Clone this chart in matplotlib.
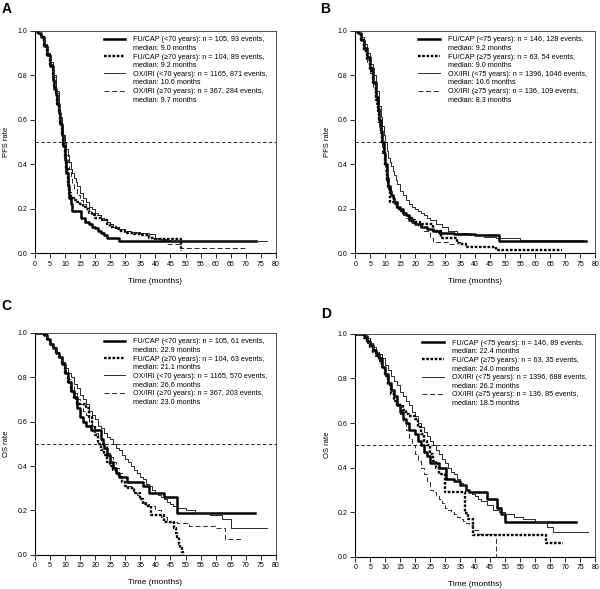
import matplotlib.pyplot as plt
from matplotlib.lines import Line2D

plt.rcParams['font.family'] = ['Liberation Sans', 'DejaVu Sans']

# ---- Panel A: PFS, cut-off 70 years ----
a_fu_young_t = [0, 1, 2, 3, 4, 5, 6, 6.5, 7, 7.5, 8, 8.5, 9, 9.5, 10, 10.5, 11, 11.5, 12, 12.5, 15.4, 16.5, 18, 19, 20, 21, 22, 23, 24, 28, 73.5]
a_fu_young_s = [1.0, 0.99, 0.97, 0.93, 0.89, 0.84, 0.78, 0.74, 0.71, 0.67, 0.63, 0.58, 0.53, 0.48, 0.42, 0.36, 0.3, 0.25, 0.22, 0.19, 0.16, 0.14, 0.13, 0.12, 0.115, 0.1, 0.09, 0.08, 0.07, 0.055, 0.055]
a_fu_old_t = [0, 1, 2, 3, 4, 5, 6, 6.5, 7, 7.5, 8, 8.5, 9, 9.5, 10, 10.5, 11, 11.5, 12, 13, 14, 15, 16, 17, 18, 19, 20, 22, 24, 25, 27, 28, 30, 33, 35, 38, 40, 48.5, 48.5]
a_fu_old_s = [1.0, 0.99, 0.97, 0.93, 0.89, 0.84, 0.79, 0.75, 0.71, 0.67, 0.63, 0.58, 0.53, 0.48, 0.43, 0.38, 0.32, 0.27, 0.25, 0.24, 0.23, 0.22, 0.21, 0.2, 0.18, 0.17, 0.16, 0.15, 0.13, 0.12, 0.11, 0.1, 0.09, 0.085, 0.08, 0.07, 0.065, 0.065, 0.01]
a_ox_young_t = [0, 1, 2, 3, 4, 5, 6, 7, 8, 8.5, 9, 9.5, 10, 10.5, 11, 11.5, 12, 12.5, 13, 13.5, 14, 15, 16, 17, 18, 19, 20, 21, 22, 23, 24, 25, 26, 27, 28, 30, 32, 35, 38, 40, 42, 45, 77]
a_ox_young_s = [1.0, 0.99, 0.97, 0.94, 0.9, 0.86, 0.8, 0.73, 0.65, 0.61, 0.57, 0.53, 0.5, 0.47, 0.44, 0.41, 0.38, 0.36, 0.34, 0.32, 0.3, 0.27, 0.25, 0.23, 0.21, 0.2, 0.18, 0.17, 0.16, 0.15, 0.14, 0.13, 0.12, 0.115, 0.11, 0.1, 0.095, 0.09, 0.085, 0.07, 0.06, 0.055, 0.055]
a_ox_old_t = [0, 1, 2, 3, 4, 5, 6, 7, 8, 8.5, 9, 9.5, 10, 10.5, 11, 11.5, 12, 12.5, 13, 14, 15, 16, 17, 18, 19, 20, 22, 24, 26, 28, 30, 33, 36, 38, 40, 44, 48, 70]
a_ox_old_s = [1.0, 0.99, 0.97, 0.93, 0.89, 0.85, 0.79, 0.72, 0.64, 0.6, 0.56, 0.52, 0.48, 0.44, 0.41, 0.38, 0.34, 0.31, 0.29, 0.26, 0.24, 0.22, 0.21, 0.19, 0.18, 0.17, 0.15, 0.13, 0.12, 0.11, 0.1, 0.09, 0.08, 0.07, 0.065, 0.04, 0.025, 0.025]

# ---- Panel B: PFS, cut-off 75 years ----
b_fu_young_t = [0, 1, 2, 3, 4, 5, 6, 7, 7.5, 8, 8.5, 9, 9.5, 10, 10.5, 11, 11.5, 12, 12.5, 13, 14, 15, 16, 17, 18, 19, 20, 22, 24, 26, 28, 33, 40, 48, 77]
b_fu_young_s = [1.0, 0.99, 0.96, 0.92, 0.88, 0.83, 0.77, 0.7, 0.65, 0.6, 0.55, 0.5, 0.45, 0.4, 0.34, 0.3, 0.28, 0.26, 0.25, 0.23, 0.21, 0.2, 0.18, 0.17, 0.15, 0.14, 0.13, 0.12, 0.11, 0.1, 0.09, 0.085, 0.08, 0.055, 0.055]
b_fu_old_t = [0, 1, 2, 3, 4, 5, 6, 7, 7.5, 8, 8.5, 9, 9.5, 10, 10.5, 11, 11.5, 13, 14, 15, 16, 17, 18, 19, 20, 21.5, 26, 28.5, 34, 35, 37, 47, 69]
b_fu_old_s = [1.0, 0.99, 0.96, 0.91, 0.87, 0.82, 0.76, 0.69, 0.64, 0.59, 0.54, 0.49, 0.44, 0.39, 0.33, 0.29, 0.23, 0.22, 0.2, 0.19, 0.18, 0.17, 0.16, 0.15, 0.14, 0.13, 0.1, 0.07, 0.045, 0.04, 0.03, 0.015, 0.015]
b_ox_young_t = [0, 1, 2, 3, 4, 5, 6, 7, 8, 8.5, 9, 9.5, 10, 10.5, 11, 11.5, 12, 12.5, 13, 13.5, 14, 15, 16, 17, 18, 19, 20, 21, 22, 23, 24, 25, 27, 29, 31, 34, 38, 43, 47, 55, 76]
b_ox_young_s = [1.0, 0.99, 0.97, 0.94, 0.9, 0.85, 0.8, 0.73, 0.66, 0.61, 0.57, 0.53, 0.5, 0.46, 0.43, 0.41, 0.39, 0.37, 0.35, 0.33, 0.31, 0.28, 0.26, 0.24, 0.22, 0.21, 0.2, 0.19, 0.18, 0.17, 0.16, 0.15, 0.13, 0.12, 0.1, 0.09, 0.08, 0.075, 0.07, 0.06, 0.055]
b_ox_old_t = [0, 1, 2, 3, 4, 5, 6, 7, 7.5, 8, 8.5, 9, 9.5, 10, 10.5, 11, 12, 13, 14, 15, 16, 17, 18, 19, 20, 21, 23, 25, 26, 31, 34]
b_ox_old_s = [1.0, 0.99, 0.96, 0.91, 0.86, 0.81, 0.74, 0.67, 0.62, 0.56, 0.5, 0.45, 0.41, 0.37, 0.33, 0.3, 0.26, 0.23, 0.21, 0.19, 0.17, 0.16, 0.15, 0.14, 0.13, 0.12, 0.1, 0.07, 0.05, 0.04, 0.04]

# ---- Panel C: OS, cut-off 70 years ----
c_fu_young_t = [0, 2, 3, 4, 5, 6, 7, 8, 9, 10, 11, 12, 13, 14, 15, 16, 17, 18.6, 22, 22.5, 23, 24, 25, 26, 27, 28, 30.5, 36, 38, 43, 47, 73.2]
c_fu_young_s = [1.0, 1.0, 0.99, 0.97, 0.95, 0.93, 0.91, 0.89, 0.86, 0.82, 0.78, 0.74, 0.71, 0.66, 0.62, 0.6, 0.58, 0.56, 0.52, 0.5, 0.48, 0.45, 0.42, 0.39, 0.37, 0.35, 0.33, 0.31, 0.28, 0.26, 0.187, 0.187]
c_fu_old_t = [0, 2, 3, 4, 5, 6, 7, 8, 9, 10, 11, 12, 13, 14, 17, 18, 19, 20, 21, 22, 23, 24, 25, 26, 27, 28, 29, 30, 31, 33, 35, 36, 37, 38.5, 43, 46.3, 46.8, 47.3, 47.8, 48.3, 48.8, 49.3]
c_fu_old_s = [1.0, 1.0, 0.99, 0.97, 0.95, 0.93, 0.91, 0.89, 0.86, 0.82, 0.78, 0.74, 0.7, 0.68, 0.66, 0.62, 0.58, 0.54, 0.5, 0.47, 0.45, 0.42, 0.4, 0.38, 0.37, 0.35, 0.33, 0.31, 0.3, 0.28, 0.25, 0.23, 0.22, 0.18, 0.15, 0.12, 0.1, 0.08, 0.05, 0.03, 0.015, 0.0]
c_ox_young_t = [0, 2, 3, 4, 5, 6, 7, 8, 9, 10, 11, 12, 13, 14, 15, 16, 17, 18, 19, 20, 21, 22, 23, 24, 25, 26, 27, 28, 29, 30, 31, 32, 33, 34, 35, 36, 37, 38, 39, 40, 41, 42, 43, 44, 45, 46, 47, 48, 50, 53, 58, 62, 65, 77]
c_ox_young_s = [1.0, 1.0, 0.99, 0.97, 0.95, 0.93, 0.91, 0.89, 0.87, 0.84, 0.82, 0.8, 0.77, 0.75, 0.72, 0.7, 0.68, 0.65, 0.63, 0.61, 0.58, 0.57, 0.55, 0.53, 0.52, 0.5, 0.48, 0.47, 0.45, 0.43, 0.42, 0.4, 0.38, 0.37, 0.35, 0.34, 0.32, 0.31, 0.29, 0.28, 0.27, 0.26, 0.25, 0.24, 0.23, 0.22, 0.21, 0.21, 0.2, 0.19, 0.18, 0.16, 0.12, 0.12]
c_ox_old_t = [0, 2, 3, 4, 5, 6, 7, 8, 9, 10, 11, 12, 13, 14, 15, 16, 17, 18, 19, 20, 21, 22, 23, 24, 25, 26, 27, 28, 29, 30, 31, 32, 33, 34, 35, 36, 37, 38, 40, 42, 44, 47, 51, 60, 63, 69]
c_ox_old_s = [1.0, 1.0, 0.99, 0.97, 0.95, 0.93, 0.91, 0.89, 0.86, 0.82, 0.79, 0.76, 0.73, 0.7, 0.68, 0.65, 0.63, 0.6, 0.57, 0.55, 0.53, 0.51, 0.49, 0.46, 0.44, 0.42, 0.39, 0.37, 0.35, 0.33, 0.31, 0.3, 0.28, 0.27, 0.25, 0.24, 0.23, 0.22, 0.2, 0.17, 0.15, 0.145, 0.13, 0.12, 0.07, 0.07]

# ---- Panel D: OS, cut-off 75 years ----
d_fu_young_t = [0, 2, 3, 4, 5, 6, 7, 8, 9, 10, 11, 12, 13, 14, 15, 16, 17, 18, 20, 21, 22, 23, 24, 25, 28, 30.4, 33, 35, 37, 38, 44, 47.2, 48.5, 50, 73.5]
d_fu_young_s = [1.0, 1.0, 0.99, 0.97, 0.95, 0.93, 0.91, 0.89, 0.85, 0.82, 0.78, 0.75, 0.72, 0.68, 0.65, 0.62, 0.6, 0.57, 0.55, 0.52, 0.5, 0.47, 0.45, 0.42, 0.4, 0.35, 0.34, 0.32, 0.3, 0.29, 0.26, 0.22, 0.19, 0.155, 0.155]
d_fu_old_t = [0, 2, 3, 4, 5, 6, 7, 8, 9, 10, 11, 12, 13, 14, 16, 17, 18, 20, 21, 22, 23, 24, 25, 26, 27, 28, 29.9, 36.6, 37.7, 39.3, 63.5, 69.3]
d_fu_old_s = [1.0, 1.0, 0.98, 0.96, 0.94, 0.92, 0.9, 0.88, 0.85, 0.81, 0.77, 0.73, 0.7, 0.68, 0.66, 0.64, 0.63, 0.62, 0.58, 0.55, 0.52, 0.5, 0.46, 0.43, 0.4, 0.37, 0.29, 0.195, 0.17, 0.095, 0.06, 0.06]
d_ox_young_t = [0, 2, 3, 4, 5, 6, 7, 8, 9, 10, 11, 12, 13, 14, 15, 16, 17, 18, 19, 20, 21, 22, 23, 24, 25, 26, 27, 28, 29, 30, 31, 32, 33, 34, 35, 36, 37, 38, 39, 40, 41, 42, 44, 46, 48, 50, 53, 56, 60, 64, 66, 77.5]
d_ox_young_s = [1.0, 1.0, 0.99, 0.98, 0.96, 0.94, 0.92, 0.91, 0.89, 0.86, 0.84, 0.81, 0.79, 0.77, 0.74, 0.72, 0.7, 0.68, 0.65, 0.63, 0.6, 0.58, 0.56, 0.54, 0.52, 0.5, 0.48, 0.46, 0.44, 0.42, 0.4, 0.38, 0.37, 0.35, 0.33, 0.32, 0.3, 0.29, 0.28, 0.27, 0.26, 0.25, 0.23, 0.21, 0.2, 0.19, 0.18, 0.17, 0.157, 0.135, 0.112, 0.112]
d_ox_old_t = [0, 2, 3, 4, 5, 6, 7, 8, 9, 10, 11, 12, 13, 14, 15, 16, 17, 18, 19, 20, 21, 22, 23, 24, 25, 26, 27, 28, 29, 30, 31, 32, 33, 34, 35, 36, 37, 38, 39.3, 41, 47, 47]
d_ox_old_s = [1.0, 1.0, 0.98, 0.96, 0.94, 0.92, 0.9, 0.87, 0.85, 0.82, 0.78, 0.75, 0.72, 0.68, 0.64, 0.61, 0.57, 0.53, 0.5, 0.46, 0.43, 0.4, 0.37, 0.34, 0.3, 0.29, 0.27, 0.26, 0.24, 0.22, 0.21, 0.2, 0.19, 0.18, 0.17, 0.16, 0.15, 0.14, 0.12, 0.1, 0.1, 0.0]

legend_a = ["FU/CAP (<70 years): n = 105, 93 events,\nmedian: 9.0 months",
            "FU/CAP (\u226570 years): n = 104, 89 events,\nmedian: 9.2 months",
            "OX/IRI (<70 years): n = 1165, 871 events,\nmedian: 10.6 months",
            "OX/IRI (\u226570 years): n = 367, 284 events,\nmedian: 9.7 months"]
legend_b = ["FU/CAP (<75 years): n = 146, 128 events,\nmedian: 9.2 months",
            "FU/CAP (\u226575 years): n = 63, 54 events,\nmedian: 9.0 months",
            "OX/IRI (<75 years): n = 1396, 1046 events,\nmedian: 10.6 months",
            "OX/IRI (\u226575 years): n = 136, 109 events,\nmedian: 8.3 months"]
legend_c = ["FU/CAP (<70 years): n = 105, 61 events,\nmedian: 22.9 months",
            "FU/CAP (\u226570 years): n = 104, 63 events,\nmedian: 21.1 months",
            "OX/IRI (<70 years): n = 1165, 570 events,\nmedian: 26.6 months",
            "OX/IRI (\u226570 years): n = 367, 203 events,\nmedian: 23.0 months"]
legend_d = ["FU/CAP (<75 years): n = 146, 89 events,\nmedian: 22.4 months",
            "FU/CAP (\u226575 years): n = 63, 35 events,\nmedian: 24.0 months",
            "OX/IRI (<75 years): n = 1396, 688 events,\nmedian: 26.2 months",
            "OX/IRI (\u226575 years): n = 136, 85 events,\nmedian: 18.5 months"]

x_ticks = list(range(0, 81, 5))
y_ticks = [0.0, 0.2, 0.4, 0.6, 0.8, 1.0]

styles = [dict(color='black', lw=1.8, ls='-'),
          dict(color='black', lw=1.7, ls=(0, (1.1, 0.7))),
          dict(color='#1a1a1a', lw=0.65, ls='-'),
          dict(color='#1a1a1a', lw=0.65, ls=(0, (5.5, 3)))]

fig = plt.figure(figsize=(6.0, 5.89), dpi=100)

panels = [
    ("A", [0.058, 0.570, 0.402, 0.378], "PFS rate",
     [(a_fu_young_t, a_fu_young_s), (a_fu_old_t, a_fu_old_s), (a_ox_young_t, a_ox_young_s), (a_ox_old_t, a_ox_old_s)],
     legend_a, (0.003, 0.996)),
    ("B", [0.592, 0.570, 0.400, 0.378], "PFS rate",
     [(b_fu_young_t, b_fu_young_s), (b_fu_old_t, b_fu_old_s), (b_ox_young_t, b_ox_young_s), (b_ox_old_t, b_ox_old_s)],
     legend_b, (0.533, 0.996)),
    ("C", [0.058, 0.058, 0.402, 0.377], "OS rate",
     [(c_fu_young_t, c_fu_young_s), (c_fu_old_t, c_fu_old_s), (c_ox_young_t, c_ox_young_s), (c_ox_old_t, c_ox_old_s)],
     legend_c, (0.003, 0.492)),
    ("D", [0.592, 0.055, 0.400, 0.378], "OS rate",
     [(d_fu_young_t, d_fu_young_s), (d_fu_old_t, d_fu_old_s), (d_ox_young_t, d_ox_young_s), (d_ox_old_t, d_ox_old_s)],
     legend_d, (0.535, 0.479)),
]

for letter, rect, ylabel, curves, labels, letter_pos in panels:
    ax = fig.add_axes(rect)
    handles, texts = [], []
    for (t, s), st, lab in zip(curves, styles, labels):
        line, = ax.step(t, s, where='post', **st)
        first, second = lab.split("\n")
        # handle sits beside the first text line, second line has no handle
        handles += [line, Line2D([], [], color='none')]
        texts += [first, second]
    ax.axhline(0.5, color='black', lw=0.6, ls=(0, (4, 3)))
    ax.set_xlim(0, 80)
    ax.set_ylim(0, 1.0)
    ax.set_xticks(x_ticks)
    ax.set_yticks(y_ticks)
    ax.set_yticklabels(["%.1f" % v for v in y_ticks])
    ax.tick_params(labelsize=5, length=3.5, width=0.6, pad=2)
    for side in ['left', 'bottom']:
        ax.spines[side].set_linewidth(0.8)
    for side in ['top', 'right']:
        ax.spines[side].set_linewidth(0.6)
        ax.spines[side].set_color('#333333')
    ax.set_xlabel("Time (months)", fontsize=6, labelpad=7)
    ax.set_ylabel(ylabel, fontsize=5.5, labelpad=5)
    ax.legend(handles, texts, loc='upper right', bbox_to_anchor=(0.965, 0.975),
              frameon=False, fontsize=5.2, handlelength=3.0, handletextpad=1.1,
              labelspacing=0.22, borderaxespad=0, borderpad=0)
    fig.text(letter_pos[0], letter_pos[1], letter, fontsize=10, fontweight='bold',
             ha='left', va='top')

fig.savefig("out.png", dpi=100)
